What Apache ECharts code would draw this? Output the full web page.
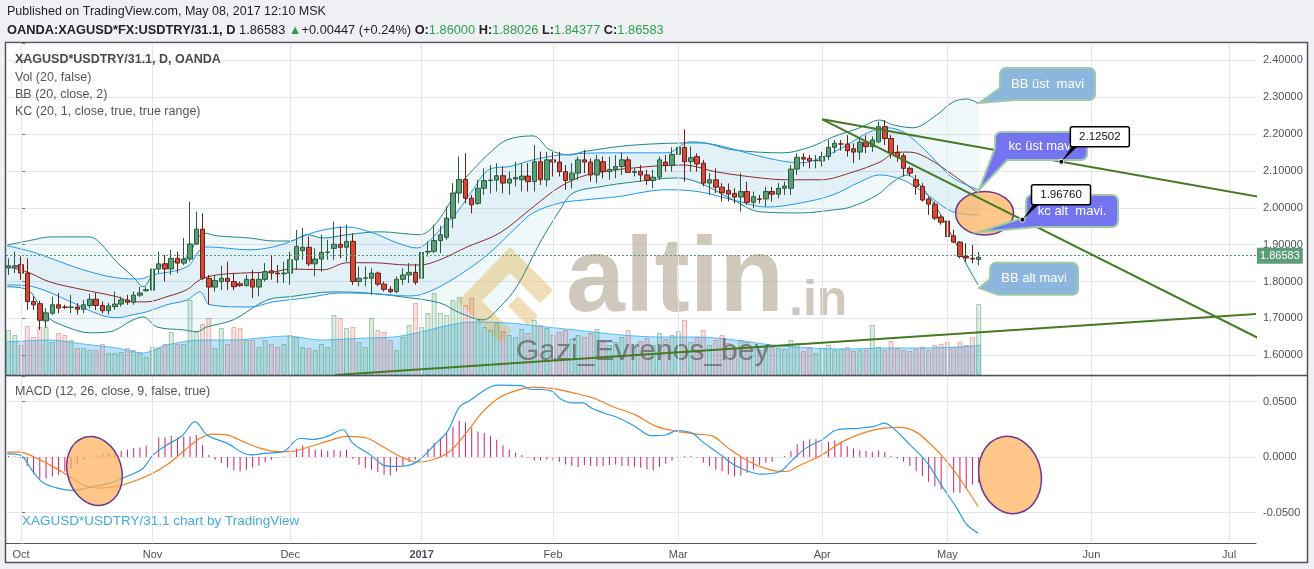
<!DOCTYPE html>
<html><head><meta charset="utf-8">
<script src="https://cdn.jsdelivr.net/npm/echarts@6/dist/echarts.min.js"></script>
<style>html,body{margin:0;padding:0;background:#eef0f4;}#c{width:1314px;height:569px;}</style>
</head><body><div id="c"></div>
<script>
// ---------------- DATA ----------------
const firstBar = -2; // bar index of first candle (Oct 3, 2016 = 0)
// [open, high, low, close]
const candles = [
[1.837,1.863,1.818,1.843],[1.839,1.881,1.823,1.843],[1.846,1.868,1.805,1.823],[1.823,1.863,1.723,1.746],
[1.746,1.760,1.723,1.737],[1.740,1.748,1.669,1.695],[1.693,1.728,1.675,1.715],[1.714,1.759,1.710,1.737],
[1.737,1.769,1.714,1.728],[1.731,1.737,1.726,1.730],[1.730,1.764,1.714,1.731],[1.731,1.742,1.710,1.725],
[1.725,1.750,1.714,1.737],[1.735,1.767,1.728,1.752],[1.752,1.769,1.723,1.735],[1.735,1.746,1.714,1.721],
[1.721,1.742,1.710,1.734],[1.732,1.773,1.723,1.739],[1.739,1.759,1.732,1.750],[1.750,1.764,1.737,1.744],
[1.744,1.773,1.737,1.763],[1.763,1.786,1.758,1.769],[1.775,1.786,1.773,1.778],[1.777,1.854,1.776,1.834],
[1.834,1.881,1.823,1.848],[1.848,1.872,1.800,1.834],[1.834,1.886,1.818,1.863],[1.863,1.881,1.823,1.850],
[1.850,1.918,1.845,1.861],[1.861,2.017,1.854,1.902],[1.902,1.990,1.899,1.942],[1.942,1.985,1.805,1.809],
[1.809,1.818,1.737,1.785],[1.785,1.818,1.773,1.803],[1.800,1.843,1.777,1.809],[1.809,1.854,1.777,1.800],
[1.800,1.823,1.777,1.786],[1.794,1.800,1.786,1.789],[1.789,1.818,1.787,1.806],[1.806,1.832,1.755,1.785],
[1.785,1.823,1.760,1.806],[1.806,1.850,1.800,1.827],[1.829,1.872,1.805,1.823],[1.823,1.845,1.796,1.821],
[1.821,1.854,1.796,1.823],[1.823,1.881,1.791,1.859],[1.859,1.940,1.832,1.895],[1.884,1.945,1.859,1.893],
[1.893,1.922,1.841,1.848],[1.848,1.890,1.814,1.861],[1.861,1.927,1.827,1.879],[1.879,1.913,1.859,1.880],
[1.890,1.963,1.859,1.901],[1.901,1.949,1.863,1.893],[1.893,1.954,1.854,1.909],[1.909,1.931,1.791,1.800],
[1.800,1.841,1.787,1.809],[1.809,1.841,1.787,1.810],[1.809,1.836,1.764,1.823],[1.823,1.827,1.787,1.793],
[1.793,1.800,1.773,1.779],[1.779,1.787,1.768,1.773],[1.773,1.814,1.768,1.806],[1.806,1.836,1.791,1.818],
[1.818,1.850,1.796,1.825],[1.825,1.848,1.791,1.798],[1.809,1.904,1.805,1.879],[1.880,1.909,1.868,1.882],
[1.882,1.954,1.877,1.911],[1.911,1.951,1.877,1.927],[1.920,2.003,1.913,1.972],[1.972,2.067,1.945,2.040],
[2.040,2.139,2.012,2.077],[2.077,2.148,2.012,2.026],[2.026,2.035,1.985,2.008],[2.012,2.076,2.008,2.053],
[2.053,2.107,2.035,2.074],[2.074,2.116,2.039,2.075],[2.075,2.121,2.044,2.087],[2.087,2.112,2.040,2.067],
[2.067,2.098,2.035,2.078],[2.078,2.125,2.058,2.082],[2.076,2.121,2.044,2.086],[2.086,2.121,2.044,2.071],
[2.071,2.170,2.044,2.125],[2.125,2.152,2.062,2.076],[2.076,2.152,2.058,2.130],[2.130,2.152,2.085,2.124],
[2.124,2.152,2.085,2.098],[2.098,2.116,2.049,2.074],[2.076,2.121,2.053,2.094],[2.094,2.139,2.076,2.130],
[2.130,2.157,2.094,2.124],[2.124,2.134,2.071,2.089],[2.089,2.143,2.067,2.130],[2.125,2.139,2.080,2.098],
[2.098,2.139,2.076,2.104],[2.104,2.143,2.080,2.112],[2.112,2.150,2.089,2.130],[2.130,2.139,2.094,2.096],
[2.096,2.107,2.085,2.099],[2.099,2.116,2.071,2.089],[2.089,2.103,2.062,2.074],[2.074,2.103,2.053,2.083],
[2.083,2.139,2.076,2.130],[2.124,2.143,2.098,2.115],[2.115,2.164,2.098,2.145],[2.145,2.184,2.125,2.164],
[2.164,2.213,2.071,2.125],[2.125,2.166,2.098,2.136],[2.139,2.148,2.098,2.119],[2.121,2.130,2.058,2.067],
[2.067,2.094,2.035,2.076],[2.076,2.107,2.040,2.056],[2.056,2.067,2.017,2.041],[2.047,2.066,2.017,2.037],
[2.039,2.053,2.012,2.029],[2.029,2.094,1.990,2.044],[2.044,2.071,2.008,2.015],[2.015,2.044,1.999,2.030],
[2.024,2.035,2.012,2.023],[2.024,2.057,2.003,2.044],[2.044,2.057,2.017,2.037],[2.037,2.067,2.026,2.053],
[2.053,2.071,2.035,2.059],[2.053,2.116,2.035,2.105],[2.105,2.148,2.089,2.137],[2.137,2.148,2.112,2.132],
[2.134,2.143,2.107,2.127],[2.128,2.143,2.107,2.128],[2.127,2.152,2.112,2.139],[2.139,2.184,2.130,2.164],
[2.164,2.184,2.148,2.175],[2.173,2.184,2.155,2.173],[2.173,2.197,2.139,2.155],[2.160,2.175,2.121,2.151],
[2.151,2.188,2.130,2.178],[2.178,2.197,2.148,2.166],[2.166,2.193,2.152,2.184],[2.179,2.234,2.175,2.220],
[2.220,2.238,2.170,2.188],[2.188,2.197,2.134,2.148],[2.150,2.170,2.125,2.139],[2.141,2.148,2.085,2.107],
[2.107,2.112,2.085,2.094],[2.076,2.089,2.035,2.058],[2.058,2.067,2.017,2.021],[2.024,2.030,1.981,2.010],
[2.010,2.017,1.967,1.972],[1.975,1.981,1.954,1.961],[1.964,1.972,1.918,1.922],[1.924,1.940,1.904,1.907],
[1.907,1.910,1.863,1.868],[1.868,1.904,1.854,1.864],[1.863,1.899,1.850,1.86136],[1.86000,1.88026,1.84377,1.86583]
];
const volumes = [
45,40,30,49,38,48,48,33,42,40, 35,27,27,25,25,31,22,22,23,27, 25,22,18,28,27,31,43,31,31,75,
43,51,57,27,47,31,48,47,35,35, 28,35,31,28,31,40,38,28,27,25, 31,28,60,57,47,48,33,28,57,45,
43,35,25,38,50,72,48,62,82,62, 60,75,78,70,77,55,48,45,52,44, 40,38,46,42,55,50,47,40,43,45,
36,40,38,42,46,35,30,33,38,45, 28,34,37,30,42,36,40,44,55,33, 38,45,30,35,40,32,28,35,33,26,
25,30,28,27,26,35,32,24,28,22, 27,30,25,26,28,24,25,25,50,28, 25,34,27,25,24,26,28,25,30,31,
33,28,33,30,38,71
];
const volumeMA = [[-2.4,33],[4.6,35],[10,31],[15.3,27],[19.5,22],[23.3,30],[28.6,35],[33.9,35],[42.4,39],[47.8,35],
[55.2,37],[59.5,38],[63.2,42],[68.5,50],[72,53],[78,52],[84,48],[90,44],[96,40],[102,38],[108,38],[114,35],[120,30],
[126,27],[132,26],[138,27],[144,27],[150,28],[153.4,30]];
const bbUpper = [[-2.2,1.899],[1.9,1.913],[4.6,1.921],[11.0,1.921],[12.6,1.905],[15.3,1.853],[17.9,1.813],[19.5,1.786],
[21.7,1.837],[24.3,1.853],[26.5,1.867],[28.1,1.913],[29.1,1.932],[31.3,1.924],[36.6,1.918],[40.3,1.910],[43.0,1.910],
[45.7,1.927],[48.3,1.918],[52.1,1.927],[57.4,1.935],[63.7,1.927],[65.8,1.948],[68.1,2.002],[70.1,2.062],[72.2,2.103],
[74.9,2.149],[77.6,2.184],[81.8,2.195],[84.5,2.157],[87.7,2.143],[89.8,2.152],[97.8,2.170],[108.5,2.176],[113.8,2.157],
[121.7,2.149],[126.1,2.165],[129.7,2.192],[134.0,2.217],[137.2,2.238],[139.3,2.225],[142.5,2.217],[146.3,2.252],
[148.9,2.287],[151.1,2.295],[152.9,2.284]];
const bbBasis = [[-2.2,1.840],[1.0,1.826],[4.6,1.799],[9.9,1.778],[15.3,1.759],[17.9,1.745],[20.1,1.745],[23.3,1.759],
[26.5,1.778],[28.6,1.805],[31.3,1.818],[36.6,1.824],[40.3,1.826],[43.0,1.834],[48.3,1.832],[52.1,1.851],[56.2,1.851],
[61.7,1.845],[63.7,1.845],[66.9,1.859],[71.3,1.894],[76.5,1.932],[81.8,2.002],[86.1,2.057],[90.4,2.089],[97.8,2.108],
[105.8,2.116],[111.2,2.097],[118.1,2.081],[122.4,2.076],[127.7,2.076],[132.9,2.097],[137.2,2.124],[140.0,2.151],
[142.0,2.151],[144.8,2.135],[148.9,2.089],[152.9,2.040]];
const bbLower = [[-2.2,1.786],[1.0,1.778],[4.2,1.704],[7.3,1.677],[11.0,1.661],[14.2,1.664],[17.9,1.696],[19.5,1.704],
[21.7,1.677],[25.9,1.669],[28.1,1.664],[29.7,1.677],[33.9,1.696],[39.3,1.750],[43.0,1.759],[49.8,1.772],[55.3,1.769],
[60.6,1.759],[66.9,1.742],[70.1,1.715],[73.8,1.696],[76.5,1.731],[79.2,1.786],[82.9,1.905],[86.1,1.994],[88.2,2.040],
[92.5,2.057],[97.8,2.070],[104.8,2.081],[108.5,2.067],[113.8,2.021],[118.1,1.989],[124.5,1.986],[129.7,1.994],
[132.5,2.002],[136.8,2.035],[139.3,2.070],[141.6,2.089],[143.6,2.062],[146.3,2.000],[148.9,1.918],[151.1,1.845],[152.9,1.791]];
const kcUpper = [[-2.2,1.897],[1.9,1.880],[4.6,1.864],[9.9,1.832],[15.3,1.810],[19.0,1.807],[21.1,1.818],[26.5,1.840],
[28.6,1.886],[29.7,1.894],[36.6,1.886],[40.3,1.894],[43.0,1.908],[45.7,1.927],[48.3,1.940],[52.1,1.948],[56.2,1.932],
[60.1,1.905],[63.3,1.891],[64.9,1.905],[66.9,1.940],[69.7,1.989],[72.2,2.049],[74.9,2.105],[78.1,2.112],[81.8,2.130],
[86.1,2.143],[93.6,2.149],[103.2,2.149],[106.9,2.179],[111.2,2.170],[119.2,2.135],[124.5,2.122],[128.8,2.143],
[132.5,2.176],[135.6,2.206],[138.4,2.217],[140.9,2.206],[143.6,2.170],[146.3,2.124],[148.9,2.081],[152.9,2.049]];
const kcLower = [[-2.2,1.791],[1.9,1.786],[7.3,1.750],[12.6,1.710],[15.3,1.702],[17.9,1.710],[20.1,1.718],[23.3,1.737],
[26.5,1.750],[28.6,1.772],[30.2,1.737],[36.6,1.731],[40.3,1.745],[45.7,1.756],[51.0,1.769],[56.2,1.767],[61.7,1.761],
[63.7,1.764],[66.9,1.786],[71.3,1.832],[74.9,1.878],[79.2,1.948],[81.8,1.986],[86.1,2.013],[89.8,2.021],[95.2,2.030],
[103.2,2.049],[108.5,2.043],[113.8,2.021],[119.2,2.002],[124.5,2.013],[129.7,2.035],[134.0,2.070],[137.2,2.089],
[139.3,2.084],[141.6,2.070],[144.8,2.035],[148.9,1.989],[152.9,1.981]];
const macdLine = [[-2.2,0.003],[-0.2,0.002],[1.9,-0.013],[3.5,-0.023],[5.8,-0.028],[8.3,-0.030],[11.5,-0.0265],[14.2,-0.0235],
[16.9,-0.0175],[19.5,-0.010],[21.1,0.002],[23.3,0.011],[25.7,0.019],[27.8,0.032],[29.7,0.020],[32.9,0.0126],[36.6,0.002],
[39.3,0.0036],[41.9,0.005],[44.6,0.017],[46.7,0.016],[48.9,0.0187],[51.4,0.0247],[53.0,0.0126],[55.8,0.002],[57.8,-0.007],
[59.4,-0.0084],[62.2,-0.007],[63.7,-0.0024],[65.8,0.0096],[68.1,0.023],[70.1,0.0457],[71.7,0.051],[74.5,0.062],[76.2,0.065],
[79.9,0.0645],[81.5,0.061],[83.1,0.061],[84.8,0.0594],[86.4,0.0518],[88.2,0.049],[89.8,0.049],[91.1,0.0443],[93.1,0.0398],
[95.5,0.0353],[98.1,0.0277],[100.7,0.0193],[103.1,0.0202],[104.8,0.024],[107.2,0.0217],[108.8,0.0142],[111.4,0.0036],
[113.9,-0.007],[116.3,-0.013],[118.1,-0.0154],[121.3,-0.013],[123.0,-0.0039],[125.4,0.0081],[128.0,0.0157],[130.4,0.0247],
[133.7,0.026],[136.3,0.0277],[137.9,0.0307],[139.6,0.0247],[142.0,0.0112],[144.6,-0.0039],[147.0,-0.025],[149.5,-0.046],
[151.1,-0.061],[152.9,-0.0686]];
const signalLine = [[-2.2,0.0045],[-0.2,0.0045],[1.9,0.0006],[4.6,-0.007],[7.3,-0.016],[9.9,-0.025],[12.6,-0.028],[15.3,-0.0265],
[17.9,-0.022],[20.6,-0.016],[23.3,-0.007],[25.9,0.005],[28.6,0.017],[30.7,0.0208],[32.9,0.020],[35.5,0.014],[38.2,0.0081],
[40.9,0.005],[43.0,0.005],[46.2,0.0096],[48.9,0.0142],[52.1,0.0187],[55.3,0.017],[57.8,0.0096],[60.6,0.0006],[63.3,-0.0045],
[65.8,-0.0024],[68.5,0.005],[71.3,0.023],[73.8,0.041],[76.5,0.054],[79.1,0.060],[81.5,0.063],[84.8,0.062],[88.2,0.058],
[91.4,0.0533],[94.7,0.0452],[98.1,0.0383],[101.5,0.0277],[104.8,0.0232],[108.0,0.0208],[110.6,0.0187],[113.0,0.0081],
[116.3,-0.0039],[119.7,-0.0115],[122.2,-0.013],[124.6,-0.0069],[128.0,0.0021],[131.3,0.0142],[134.5,0.0217],[137.9,0.0262],
[140.4,0.0268],[142.8,0.0232],[145.4,0.0112],[147.9,-0.0039],[150.3,-0.022],[152.9,-0.0446]];
const macdHist = [
0.001,0.0006,-0.001,-0.008,-0.015,-0.0196,-0.0196,-0.0175,-0.016,-0.013,-0.010,-0.0063,-0.0027,0.0006,0.002,0.0027,
0.0033,0.0045,0.0057,0.0066,0.0081,0.0087,0.0105,
0.0147,0.0178,0.0178,0.0193,0.0178,0.0187,0.0187,0.020,0.011,0.002,
-0.0024,-0.0054,-0.0093,-0.012,-0.013,-0.0114,-0.0093,-0.0075,-0.0045,-0.0024,
-0.0003,0.0006,0.0033,0.0075,0.0105,0.0087,0.0066,0.0066,0.0057,0.0063,
0.0057,0.0063,-0.0015,-0.0069,-0.010,-0.0114,-0.0135,-0.016,-0.0166,-0.013,
-0.0075,-0.0045,-0.0024,0.0027,0.0075,0.0127,0.0172,0.0217,0.0277,0.0328,
0.0313,0.0262,0.0232,0.0217,0.0193,0.0157,0.0105,0.0069,0.0039,0.0018,
-0.0006,-0.003,-0.003,-0.0021,-0.003,-0.0045,-0.0066,-0.0081,-0.009,-0.0072,
-0.0081,-0.0081,-0.0081,-0.0072,-0.0066,-0.0081,-0.0081,-0.009,-0.0096,-0.0111,
-0.012,-0.009,-0.006,-0.003,0.0009,0.0009,0.0009,-0.0006,-0.0051,-0.0081,
-0.0111,-0.0127,-0.0157,-0.0172,-0.0166,-0.0142,-0.0111,-0.0072,-0.0051,-0.0042,
0,0.0009,0.0054,0.0115,0.0145,0.016,0.016,0.015,0.0139,0.015,
0.013,0.0099,0.0078,0.006,0.0054,0.0048,0.006,0.0048,0.0009,-0.0012,
-0.0042,-0.0081,-0.0127,-0.0172,-0.0223,-0.0262,-0.0292,-0.0322,-0.0322,-0.0322,
-0.0283,-0.0247,-0.0232];
const monthStarts = [0,21,43,64,85,105,128,148,171,193];
const monthLabels = ['Oct','Nov','Dec','2017','Feb','Mar','Apr','May','Jun','Jul'];
const trendLines = [
  [[128.0,2.2400],[197.5,2.0307]],
  [[128.0,2.2400],[197.5,1.6483]],
  [[50.2,1.5466],[197.3,1.7120]]
];
const pricePoints = [[166.2,2.12502],[160.0,1.96760]];
const calloutTexts = ['BB üst  mavi','kc üst mavi','kc alt  mavi.','BB alt mavi'];
const calloutBoxes = [[156.41,2.3791],[155.62,2.2057],[160.57,2.0349],[154.82,1.8507]];
const calloutTips  = [[153.06,2.2843],[153.06,2.0485],[153.06,1.9347],[153.06,1.7829]];
const priceEllipse = [153.94,1.9853];
const macdEllipses = [[11.74,-0.01255],[158.0,-0.01615]];
const titleText = 'Published on TradingView.com, May 08, 2017 12:10 MSK';
const symbolText = 'OANDA:XAGUSD*FX:USDTRY/31.1, D';
const legendLines = ['XAGUSD*USDTRY/31.1, D, OANDA','Vol (20, false)','BB (20, close, 2)','KC (20, 1, close, true, true range)'];
const macdLegend = 'MACD (12, 26, close, 9, false, true)';
const creditText = 'XAGUSD*USDTRY/31.1 chart by TradingView';

// ---------------- CHART ----------------
const F = '"Liberation Sans", Arial, sans-serif';
const X_MIN = -2.4, X_MAX = 197.3;
const last = candles[candles.length-1], prev = candles[candles.length-2];
const lastClose = last[3];
const chg = lastClose - prev[3];
const chgPct = chg / prev[3] * 100;

const candleData = candles.map((r,k)=>[firstBar+k, r[0], r[3], r[2], r[1]]);
const volData = volumes.map((v,k)=>{
  const up = candles[k][3] >= candles[k][0];
  return {value:[firstBar+k, v], itemStyle:{color: up ? 'rgba(120,190,140,0.26)' : 'rgba(230,120,110,0.22)',
    borderColor: up ? 'rgba(70,140,95,0.45)' : 'rgba(190,80,70,0.38)', borderWidth:1}};
});
const histData = macdHist.map((v,k)=>[firstBar+k, v]);

const chart = echarts.init(document.getElementById('c'), null, {renderer:'canvas'});

function band(upper, lower, color){
  return {type:'custom', xAxisIndex:0, yAxisIndex:0, silent:true, z:1, data:[[0,2]],
    renderItem:(params, api)=>{
      const pts = upper.map(d=>api.coord(d)).concat(lower.slice().reverse().map(d=>api.coord(d)));
      return {type:'polygon', shape:{points:pts, smooth:0.3}, style:{fill:color}};
    }};
}
function ln(data, color, w, extra){
  return Object.assign({type:'line', xAxisIndex:0, yAxisIndex:0, data, showSymbol:false, smooth:0.35, silent:true,
    lineStyle:{color, width:w}, z:2}, extra||{});
}
const gridLineStyle = {color:'#e4e6ea', width:1, type:'solid'};

const option = {
  animation:false,
  backgroundColor:'#eef0f4',
  grid:[{left:6,right:58,top:43,height:332},{left:6,right:58,top:280,height:95},{left:6,right:58,top:376,height:167.3}],
  xAxis:[
    {gridIndex:0,type:'value',min:X_MIN,max:X_MAX,show:false},
    {gridIndex:1,type:'value',min:X_MIN,max:X_MAX,show:false},
    {gridIndex:2,type:'value',min:X_MIN,max:X_MAX,position:'bottom',
      axisLine:{show:true,onZero:false,lineStyle:{color:'#50535e',width:1}},
      axisTick:{show:false, customValues:monthStarts},
      splitLine:{show:false},
      axisLabel:{customValues:monthStarts, color:'#4c525e', fontSize:11, fontFamily:F, margin:6,
        formatter:(v)=>{const k=monthStarts.indexOf(Math.round(v)); if(k<0) return ''; const t=monthLabels[k]; return /^\d+$/.test(t)?'{b|'+t+'}':t;},
        rich:{b:{fontWeight:'bold',fontSize:11,fontFamily:F,color:'#4c525e'}}}}
  ],
  yAxis:[
    {gridIndex:0,type:'value',position:'right',min:1.5466,max:2.4469,splitNumber:9,
      axisLine:{show:true,lineStyle:{color:'#50535e',width:1}},
      axisTick:{show:true,length:4,lineStyle:{color:'#777'}},
      axisLabel:{color:'#4c525e',fontSize:11,fontFamily:F,margin:7,
        formatter:(v)=>Math.abs(v*10-Math.round(v*10))<1e-6?v.toFixed(5):''},
      splitLine:{show:true,lineStyle:gridLineStyle}},
    {gridIndex:1,type:'value',min:0,max:95,show:false},
    {gridIndex:2,type:'value',position:'right',min:-0.0778,max:0.0732,splitNumber:3,
      axisLine:{show:true,lineStyle:{color:'#50535e',width:1}},
      axisTick:{show:true,length:4,lineStyle:{color:'#777'}},
      axisLabel:{color:'#4c525e',fontSize:11,fontFamily:F,margin:7,
        formatter:(v)=>Math.abs(v*20-Math.round(v*20))<1e-6?(Math.abs(v)<1e-9?0:v).toFixed(4):''},
      splitLine:{show:true,lineStyle:gridLineStyle}}
  ],
  series:[
    {type:'line',xAxisIndex:0,yAxisIndex:0,data:[],silent:true,z:0,
      markLine:{silent:true,symbol:['none','none'],label:{show:false},lineStyle:gridLineStyle,animation:false,
        data:monthStarts.map(v=>({xAxis:v}))}},
    {type:'line',xAxisIndex:2,yAxisIndex:2,data:[],silent:true,z:0,
      markLine:{silent:true,symbol:['none','none'],label:{show:false},lineStyle:gridLineStyle,animation:false,
        data:monthStarts.map(v=>({xAxis:v}))}},
    band(bbUpper, bbLower, 'rgba(25,135,160,0.06)'),
    band(kcUpper, kcLower, 'rgba(33,150,243,0.07)'),
    {type:'bar',xAxisIndex:1,yAxisIndex:1,data:volData,barWidth:5,silent:true,z:1},
    {type:'line',xAxisIndex:1,yAxisIndex:1,data:volumeMA,showSymbol:false,smooth:0.3,silent:true,z:1,
      lineStyle:{color:'rgba(41,170,240,0.75)',width:1},areaStyle:{color:'rgba(41,165,238,0.46)'}},
    ln(bbUpper,'#1f8a80',1), ln(bbLower,'#1f8a80',1), ln(bbBasis,'#8a2b2b',1),
    ln(kcUpper,'#2196f3',1), ln(kcLower,'#2196f3',1),
    {type:'candlestick',xAxisIndex:0,yAxisIndex:0,data:candleData,barWidth:5,silent:true,z:3,
      itemStyle:{color:'#5b9e76',color0:'#d24b3a',borderColor:'#2c5a3c',borderColor0:'#6a2017',borderWidth:1},
      markLine:{silent:true,symbol:['none','none'],animation:false,
        lineStyle:{color:'#4e9a6a',type:[2,2],width:1},
        label:{show:true,position:'end',distance:1,formatter:lastClose.toFixed(5),color:'#fff',
          backgroundColor:'#5b9d76',padding:[3,3,2,3],fontSize:11,fontFamily:F},
        data:[{yAxis:lastClose}]}},
    ...trendLines.map(t=>({type:'line',xAxisIndex:0,yAxisIndex:0,data:t,showSymbol:false,silent:true,z:6,
      lineStyle:{color:'#467a22',width:2}})),
    {type:'bar',xAxisIndex:2,yAxisIndex:2,data:histData,barWidth:1,silent:true,z:2,itemStyle:{color:'#cf1f6a'}},
    {type:'line',xAxisIndex:2,yAxisIndex:2,data:signalLine,showSymbol:false,smooth:0.35,silent:true,z:3,
      lineStyle:{color:'#f57d1f',width:1.2}},
    {type:'line',xAxisIndex:2,yAxisIndex:2,data:macdLine,showSymbol:false,smooth:0.35,silent:true,z:3,
      lineStyle:{color:'#2a9be8',width:1.2}}
  ]
};
chart.setOption(option);

// ---------------- ANNOTATIONS ----------------
const P = (d)=>chart.convertToPixel({gridIndex:0}, d);
const M = (d)=>chart.convertToPixel({gridIndex:2}, d);
const txt = (text,x,y,st,z)=>({type:'text',x,y,z:z||5,silent:true,
  style:Object.assign({text,fill:'#333',fontSize:12,fontFamily:F,verticalAlign:'middle',align:'left'},st||{})});

const els = [];
// frame
els.push({type:'rect',z:-10,silent:true,shape:{x:5.5,y:42.5,width:1302,height:520},style:{fill:'#fff',stroke:'#50535e',lineWidth:1.5}});
els.push({type:'line',z:10,silent:true,shape:{x1:5.5,y1:375.5,x2:1307.5,y2:375.5},style:{stroke:'#50535e',lineWidth:1.5}});
// header
els.push(txt(titleText,7,12,{fill:'#222',fontSize:12.5}));
const g = '#2f9e4f';
els.push(txt('{b|'+symbolText+'} {n|'+lastClose.toFixed(5)+'} {g|▲}{n|'+(chg>=0?'+':'')+chg.toFixed(5)+' ('+(chg>=0?'+':'')+chgPct.toFixed(2)+'%)} {b|O:}{g|'+last[0].toFixed(5)+'} {b|H:}{g|'+last[1].toFixed(5)+'} {b|L:}{g|'+last[2].toFixed(5)+'} {b|C:}{g|'+last[3].toFixed(5)+'}',
  7,30,{fontSize:12.8,rich:{b:{fontWeight:'bold',fill:'#222',fontSize:12.8,fontFamily:F},n:{fill:'#222',fontSize:12.8,fontFamily:F},g:{fill:g,fontSize:12.8,fontFamily:F}}}));
// legends
legendLines.forEach((t,k)=>els.push(txt(t,15,[60,78,95,112][k],{fill:k===0?'#4a4a4a':'#555',fontWeight:k===0?'bold':'normal',fontSize:12.5})));
els.push(txt(macdLegend,15,392,{fill:'#555',fontSize:12.5}));
els.push(txt(creditText,22,521,{fill:'#46a8e0',fontSize:13.5}));
// watermark
els.push({type:'polygon',z:1,silent:true,shape:{points:[[510,247],[553,290],[540,303],[510,273],[482,301],[512,331],[500,343],[458,301]]},style:{fill:'rgba(226,190,110,0.5)'}});
els.push({type:'polygon',z:1,silent:true,shape:{points:[[518,296],[538,316],[528,326],[508,306]]},style:{fill:'rgba(226,190,110,0.5)'}});
els.push(txt('altin',566,282,{fill:'rgba(175,165,145,0.6)',fontSize:106,fontWeight:'bold'},1));
els.push(txt('.in',789,301,{fill:'rgba(175,165,145,0.6)',fontSize:50,fontWeight:'bold'},1));
els.push(txt('Gazi_Evrenos_bey',516,352,{fill:'rgba(105,105,105,0.8)',fontSize:30},4));

// ellipses
const ell = (c,rx,ry,rot)=>({type:'ellipse',x:c[0],y:c[1],rotation:rot,z:4,silent:true,
  shape:{cx:0,cy:0,rx,ry},style:{fill:'rgba(255,176,92,0.72)',stroke:'#6a3a8e',lineWidth:1.5}});
els.push(ell(P(priceEllipse),29,21.7,0));
els.push(ell(M(macdEllipses[0]),27,35,0.3));
els.push(ell(M(macdEllipses[1]),31,39,0.22));

// callouts
const boxSize = [[95,32],[92,28],[92,32],[88,32]];
const tailOff = [[15,20],[12,16],[11,22],[8,16]];
const fills = ['#8cb6de','#7474f0','#7474f0','#8cb6de'];
function calloutPts(x,y,w,h,r,bx,ly,tip){
  const pts=[];
  const arc=(cx,cy,a0,a1)=>{for(let k=0;k<=4;k++){const a=a0+(a1-a0)*k/4;pts.push([cx+r*Math.cos(a),cy+r*Math.sin(a)]);}};
  arc(x+r,y+r,Math.PI,1.5*Math.PI);
  arc(x+w-r,y+r,1.5*Math.PI,2*Math.PI);
  arc(x+w-r,y+h-r,0,0.5*Math.PI);
  pts.push([bx,y+h]); pts.push(tip); pts.push([x,ly]);
  return pts;
}
calloutTexts.forEach((t,k)=>{
  const b = P(calloutBoxes[k]), tip = P(calloutTips[k]);
  const [w,h] = boxSize[k];
  els.push({type:'polygon',z:7,silent:true,shape:{points:calloutPts(b[0],b[1],w,h,6,b[0]+tailOff[k][0],b[1]+tailOff[k][1],tip)},
    style:{fill:fills[k],stroke:'#9ccaa6',lineWidth:2}});
  els.push(txt(t,b[0]+w/2,b[1]+h/2,{fill:'#fff',fontSize:13,align:'center'},8));
});
// price point labels
pricePoints.forEach(pp=>{
  const p = P(pp);
  const bx = p[0]+9, by = p[1]-35;
  els.push({type:'polygon',z:9,silent:true,shape:{points:[[bx+2,by+19],[bx+8,by+19],[p[0],p[1]]]},style:{fill:'#000'}});
  els.push({type:'rect',z:9,silent:true,shape:{x:bx,y:by,width:59,height:20,r:2},style:{fill:'#fff',stroke:'#000',lineWidth:1.5}});
  els.push(txt(pp[1].toFixed(5),bx+29.5,by+10,{fill:'#111',fontSize:11.5,align:'center'},10));
  els.push({type:'circle',z:10,silent:true,shape:{cx:p[0],cy:p[1],r:2.5},style:{fill:'#000',stroke:'#fff',lineWidth:1}});
});
chart.setOption({graphic:{elements:els}});
</script>
</body></html>
